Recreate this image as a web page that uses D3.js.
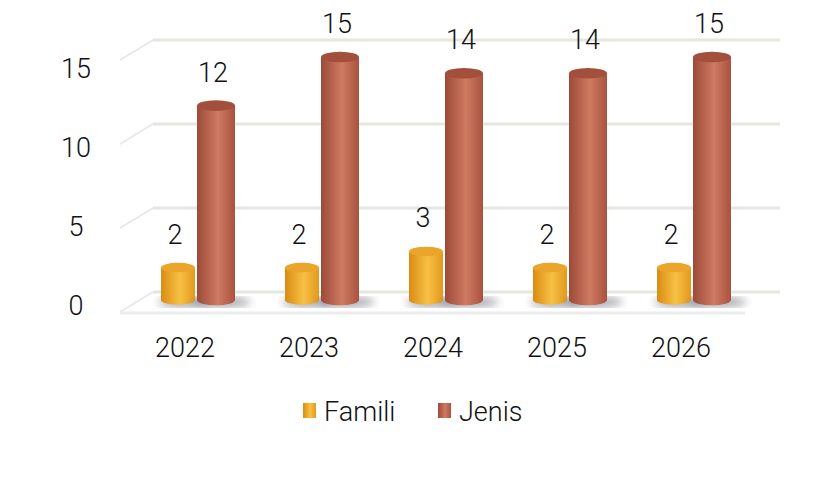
<!DOCTYPE html>
<html>
<head>
<meta charset="UTF-8">
<script src="https://d3js.org/d3.v7.min.js"></script>
<style>body{margin:0;background:#fff}text{font-family:Roboto,"Noto Sans",sans-serif;font-weight:300;fill:#111}</style>
</head>
<body>
<script>
var years = ["2022","2023","2024","2025","2026"];
var famili = [2, 2, 3, 2, 2];
var jenis = [12, 15, 14, 14, 15];
var ticks = [0, 5, 10, 15];

var svg = d3.select("body").append("svg").attr("width",827).attr("height",480);
var defs = svg.append("defs");
function grad(id, dark, mid, light){
  var g = defs.append("linearGradient").attr("id",id);
  g.append("stop").attr("offset","0%").attr("stop-color",dark);
  g.append("stop").attr("offset","55%").attr("stop-color",light);
  g.append("stop").attr("offset","100%").attr("stop-color",mid);
}
grad("gF","#d98c12","#e39a1c","#f7c045");
grad("gJ","#9c4a38","#a9533f","#cf7a62");
defs.append("filter").attr("id","blur").append("feGaussianBlur").attr("stdDeviation",4);

// back wall scale, bar scale, tick label scale
var yWall = d3.scaleLinear().domain([0,15]).range([292,40]);
var yBar = d3.scaleLinear().domain([0,15]).range([300,57]);
var yLab = d3.scaleLinear().domain([0,15]).range([305,68]);
var x = d3.scaleBand().domain(years).range([123,743]);

// gridlines
ticks.forEach(function(t){
  var y = yWall(t);
  svg.append("line").attr("x1",153).attr("x2",780).attr("y1",y).attr("y2",y)
    .attr("stroke","#e6e6e0").attr("stroke-width",3);
  svg.append("line").attr("x1",153).attr("x2",120).attr("y1",y).attr("y2",y+20)
    .attr("stroke","#e8e8e8").attr("stroke-width",2);
  svg.append("text").attr("x",76).attr("y",yLab(t)).attr("dy","0.36em").attr("text-anchor","middle")
    .attr("font-size",27).text(t);
});
svg.append("line").attr("x1",120).attr("x2",745).attr("y1",313).attr("y2",313)
  .attr("stroke","#ececec").attr("stroke-width",3);

function cyl(cx, w, v, fill, topc, label){
  var top = yBar(v), bot = yBar(0), ry = w*0.14;
  svg.append("ellipse").attr("cx",cx+6).attr("cy",bot+2).attr("rx",w*0.75).attr("ry",5)
    .attr("fill","#556").attr("opacity",0.55).attr("filter","url(#blur)");
  svg.append("path").attr("fill",fill)
    .attr("d","M"+(cx-w/2)+","+top+" L"+(cx-w/2)+","+bot+" A"+(w/2)+","+ry+" 0 0 0 "+(cx+w/2)+","+bot+" L"+(cx+w/2)+","+top+" Z");
  svg.append("ellipse").attr("cx",cx).attr("cy",top).attr("rx",w/2).attr("ry",ry).attr("fill",topc);
  svg.append("text").attr("x",cx-3).attr("y",top-24).attr("text-anchor","middle")
    .attr("font-size",27).text(label);
}
years.forEach(function(yr,i){
  var c = x(yr) + x.bandwidth()/2;
  cyl(c-7, 34, famili[i], "url(#gF)", "#eba52a", famili[i]);
  cyl(c+31, 38, jenis[i], "url(#gJ)", "#a24f3c", jenis[i]);
  svg.append("text").attr("x",c).attr("y",357).attr("text-anchor","middle")
    .attr("font-size",27).text(yr);
});

// legend
var leg = [["Famili","url(#gF)",303],["Jenis","url(#gJ)",438]];
leg.forEach(function(l){
  svg.append("rect").attr("x",l[2]).attr("y",403).attr("width",13).attr("height",15).attr("fill",l[1]);
  svg.append("text").attr("x",l[2]+21).attr("y",421).attr("font-size",27).text(l[0]);
});
</script>
</body>
</html>
